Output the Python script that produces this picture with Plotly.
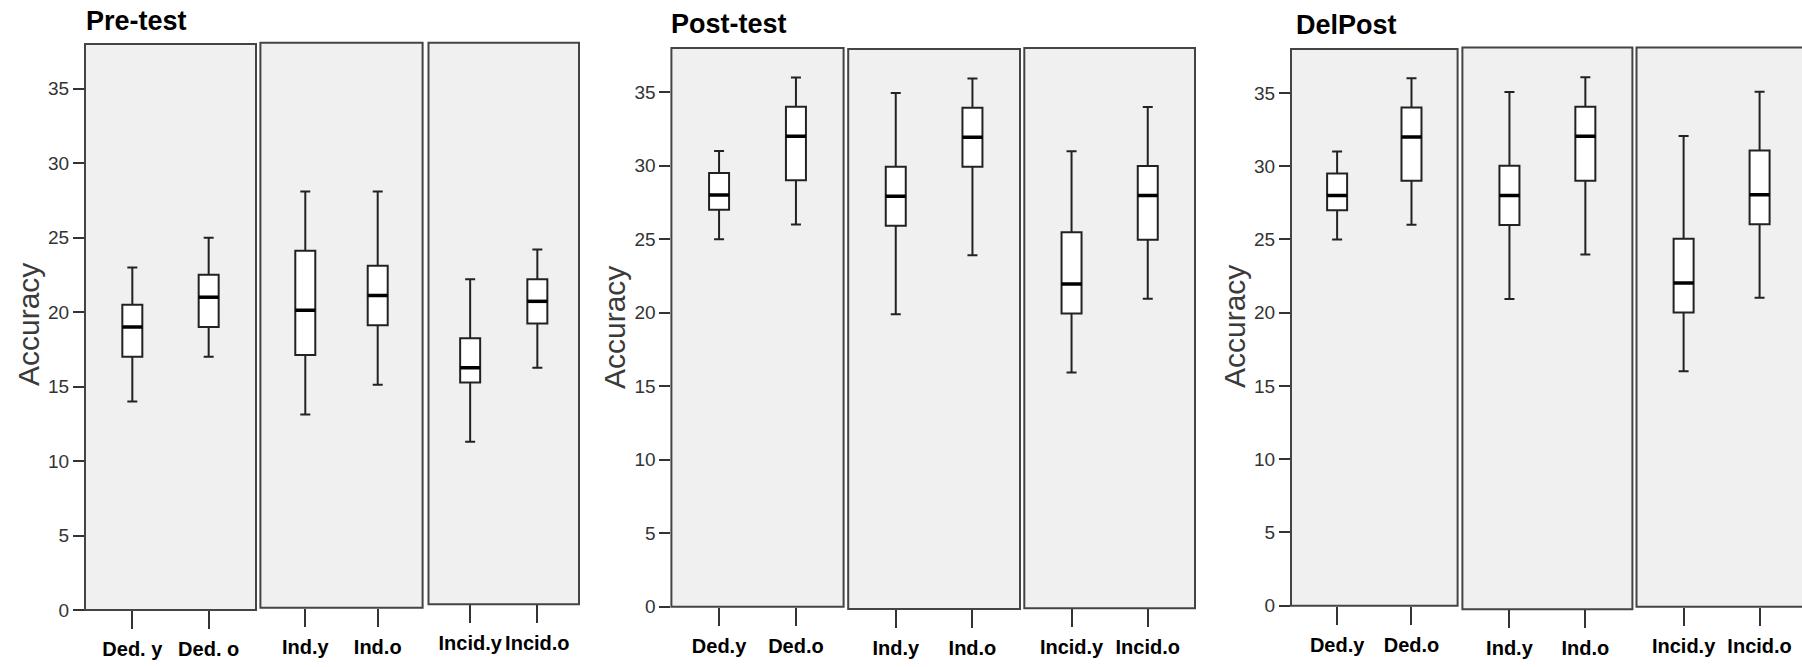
import plotly.graph_objects as go

# ---------------- data ----------------
tests = ["Pre-test", "Post-test", "DelPost"]

pre_labels = ["Ded. y", "Ded. o", "Ind.y", "Ind.o", "Incid.y", "Incid.o"]
pre_low = [14, 17, 13, 15, 11, 16]
pre_q1 = [17, 19, 17, 19, 15, 19]
pre_med = [19, 21, 20, 21, 16, 20.5]
pre_q3 = [20.5, 22.5, 24, 23, 18, 22]
pre_high = [23, 25, 28, 28, 22, 24]

post_labels = ["Ded.y", "Ded.o", "Ind.y", "Ind.o", "Incid.y", "Incid.o"]
post_low = [25, 26, 20, 24, 16, 21]
post_q1 = [27, 29, 26, 30, 20, 25]
post_med = [28, 32, 28, 32, 22, 28]
post_q3 = [29.5, 34, 30, 34, 25.5, 30]
post_high = [31, 36, 35, 36, 31, 34]

del_labels = ["Ded.y", "Ded.o", "Ind.y", "Ind.o", "Incid.y", "Incid.o"]
del_low = [25, 26, 21, 24, 16, 21]
del_q1 = [27, 29, 26, 29, 20, 26]
del_med = [28, 32, 28, 32, 22, 28]
del_q3 = [29.5, 34, 30, 34, 25, 31]
del_high = [31, 36, 35, 36, 32, 35]

y_ticks = [0, 5, 10, 15, 20, 25, 30, 35]
y_title = "Accuracy"

# ---------------- layout (pixel geometry) ----------------
W, H = 1802, 667
# (left, right, top, bottom) of each sub-panel in px
panel_px = [
    [(85, 256, 44, 610), (260.4, 422.6, 42.7, 607.7), (428.5, 579, 42.7, 604.3)],
    [(671.4, 843.6, 48, 606.7), (848.2, 1020, 48.9, 609), (1024.3, 1195, 48, 608.3)],
    [(1291, 1457.6, 49, 605.7), (1462.4, 1632.4, 47.6, 609.3), (1636.5, 1806.7, 47.6, 606.7)],
]
title_px = [(84, 21), (669, 24), (1294, 25)]
ytitle_px = [(28, 325), (614, 328), (1234, 327)]
XR = (-0.62, 1.62)
YR = (0, 38)
BOX_PX = 20

SANS = "'Liberation Sans', Arial, sans-serif"

datasets = [
    (pre_labels, pre_low, pre_q1, pre_med, pre_q3, pre_high),
    (post_labels, post_low, post_q1, post_med, post_q3, post_high),
    (del_labels, del_low, del_q1, del_med, del_q3, del_high),
]

fig = go.Figure()
layout = dict(
    width=W, height=H, margin=dict(l=0, r=0, t=0, b=0),
    paper_bgcolor="white", plot_bgcolor="rgba(0,0,0,0)",
    template="none", showlegend=False,
)
shapes = []
annotations = []

n = 0
for p, (labels, lo, q1, med, q3, hi) in enumerate(datasets):
    for s in range(3):
        n += 1
        l, r, t, b = panel_px[p][s]
        r_clip = min(r, W)
        xr1 = XR[0] + (XR[1] - XR[0]) * (r_clip - l) / (r - l)
        xname = "x" if n == 1 else f"x{n}"
        yname = "y" if n == 1 else f"y{n}"
        xkey = "xaxis" if n == 1 else f"xaxis{n}"
        ykey = "yaxis" if n == 1 else f"yaxis{n}"
        px_per_unit = (r - l) / (XR[1] - XR[0])
        bw = BOX_PX / px_per_unit
        idx = [2 * s, 2 * s + 1]
        layout[xkey] = dict(
            domain=[l / W, r_clip / W], range=[XR[0], xr1], anchor=yname,
            tickmode="array", tickvals=[0, 1], ticktext=[labels[i] for i in idx],
            ticks="outside", ticklen=18, tickwidth=2, tickcolor="#333",
            tickangle=0, ticklabelstandoff=3,
            showline=False, showgrid=False, zeroline=False, automargin=False,
            tickfont=dict(family=SANS, size=20, color="black", weight="bold"),
        )
        ydict = dict(
            domain=[1 - b / H, 1 - t / H], range=list(YR), anchor=xname,
            showgrid=False, zeroline=False, showline=False, automargin=False,
        )
        if s == 0:
            ydict.update(
                tickmode="array", tickvals=y_ticks, ticks="outside", ticklen=11,
                tickwidth=1.5, tickcolor="#333",
                tickfont=dict(family=SANS, size=19, color="#333"),
            )
        else:
            ydict.update(showticklabels=False, ticks="")
        layout[ykey] = ydict

        shapes.append(dict(
            type="rect", xref="paper", yref="paper", layer="below",
            x0=l / W, x1=r / W, y0=1 - b / H, y1=1 - t / H,
            fillcolor="#f0f0f0", line=dict(color="#444", width=2),
        ))

        for k, i in enumerate(idx):
            fig.add_trace(go.Box(
                x=[k], q1=[q1[i]], median=[med[i]], q3=[q3[i]],
                lowerfence=[lo[i]], upperfence=[hi[i]],
                width=bw, whiskerwidth=0.5, boxpoints=False,
                fillcolor="white", line=dict(color="#222", width=2),
                xaxis=xname, yaxis=yname, hoverinfo="skip",
            ))
            fig.add_trace(go.Scatter(
                x=[k - bw / 2, k + bw / 2], y=[med[i], med[i]], mode="lines",
                line=dict(color="black", width=3.5), xaxis=xname, yaxis=yname,
                hoverinfo="skip", cliponaxis=False,
            ))

    tx, ty = title_px[p]
    annotations.append(dict(
        text=tests[p], xref="paper", yref="paper", x=tx / W, y=1 - ty / H,
        xanchor="left", yanchor="middle", showarrow=False,
        font=dict(family=SANS, size=27, color="black", weight="bold"),
    ))
    ax, ay = ytitle_px[p]
    annotations.append(dict(
        text=y_title, xref="paper", yref="paper", x=ax / W, y=1 - ay / H,
        xanchor="center", yanchor="middle", textangle=-90, showarrow=False,
        font=dict(family=SANS, size=30, color="#3a3a3a"),
    ))

layout["shapes"] = shapes
layout["annotations"] = annotations
fig.update_layout(**layout)
fig.write_html("out.html")
